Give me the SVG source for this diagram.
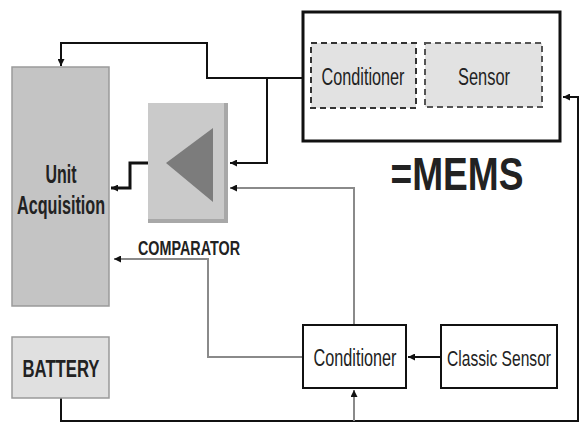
<svg xmlns="http://www.w3.org/2000/svg" width="580" height="425" viewBox="0 0 580 425">
<defs>
<style>
.t{font-family:"Liberation Sans Narrow","Liberation Sans",Arial,sans-serif;fill:#222;text-anchor:middle}
.b{font-weight:bold}
.blk{fill:none;stroke:#111;stroke-width:2}
.gry{fill:none;stroke:#8a8a8a;stroke-width:2}
</style>
<marker id="ahb" viewBox="0 0 10 10" refX="10" refY="5" markerWidth="7" markerHeight="7" orient="auto" markerUnits="userSpaceOnUse">
<path d="M0,0 L10,5 L0,10 z" fill="#111"/>
</marker>
</defs>
<rect width="580" height="425" fill="#fff"/>

<g id="connectors">
<path class="blk" d="M303,78 H207 V43 H61 V66" marker-end="url(#ahb)"/>
<path class="blk" d="M267,78 V163 H230" marker-end="url(#ahb)"/>
<path class="gry" d="M354,325 V188 H230" marker-end="url(#ahb)"/>
<path class="blk" d="M153,163 H130 V188 H111" marker-end="url(#ahb)" style="stroke-width:3"/>
<path class="gry" d="M303,357 H208 V259 H114" marker-end="url(#ahb)"/>
<path class="blk" d="M441,357 H408" marker-end="url(#ahb)"/>
<path class="blk" d="M61,398 V421 H578 V97 H563" marker-end="url(#ahb)"/>
<path class="gry" d="M354,421 V390" marker-end="url(#ahb)"/>
</g>

<g id="unit-acquisition">
<rect x="12" y="67" width="97" height="239" fill="#c4c4c4" stroke="#9a9a9a" stroke-width="1.5"/>
<text class="t b" x="61" y="183" font-size="26" textLength="31" lengthAdjust="spacingAndGlyphs">Unit</text>
<text class="t b" x="61" y="214" font-size="25" textLength="88" lengthAdjust="spacingAndGlyphs">Acquisition</text>
</g>

<g id="comparator">
<rect x="148" y="103" width="80" height="120" fill="#a8a8a8"/>
<rect x="148" y="103" width="76" height="116" fill="#cacaca"/>
<polygon points="166,163 213,128 213,202" fill="#7c7c7c"/>
<text class="t b" x="189" y="255" font-size="20" textLength="102" lengthAdjust="spacingAndGlyphs">COMPARATOR</text>
</g>

<g id="mems">
<rect x="303" y="12" width="257" height="129" fill="#fff" stroke="#111" stroke-width="3"/>
<text class="t b" x="457" y="190" font-size="46" fill="#111" textLength="133" lengthAdjust="spacingAndGlyphs">=MEMS</text>
</g>

<g id="mems-conditioner">
<rect x="311" y="43" width="105" height="65" fill="#e2e2e2" stroke="#333" stroke-width="2" stroke-dasharray="6,4"/>
<text class="t" x="363" y="85" font-size="23" textLength="83" lengthAdjust="spacingAndGlyphs">Conditioner</text>
</g>

<g id="mems-sensor">
<rect x="425" y="43" width="117" height="64" fill="#e2e2e2" stroke="#555" stroke-width="2" stroke-dasharray="6,4"/>
<text class="t" x="484" y="85" font-size="23" textLength="52" lengthAdjust="spacingAndGlyphs">Sensor</text>
</g>

<g id="battery">
<rect x="12" y="337" width="97" height="61" fill="#e0e0e0" stroke="#9a9a9a" stroke-width="1.5"/>
<text class="t b" x="61" y="377" font-size="23" textLength="77" lengthAdjust="spacingAndGlyphs">BATTERY</text>
</g>

<g id="conditioner">
<rect x="303" y="325" width="103" height="63" fill="#fff" stroke="#111" stroke-width="2"/>
<text class="t" x="355" y="366" font-size="23" textLength="83" lengthAdjust="spacingAndGlyphs">Conditioner</text>
</g>

<g id="classic-sensor">
<rect x="441" y="325" width="116" height="63" fill="#fff" stroke="#111" stroke-width="2"/>
<text class="t" x="0" y="0" font-size="22" transform="translate(499,366) scale(0.71,1)">Classic Sensor</text>
</g>
</svg>
